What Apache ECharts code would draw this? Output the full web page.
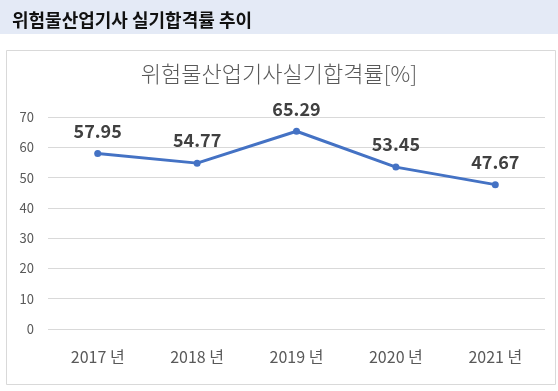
<!DOCTYPE html>
<html><head><meta charset="utf-8">
<script src="https://cdn.jsdelivr.net/npm/echarts@6/dist/echarts.min.js"></script>
<style>html,body{margin:0;padding:0;background:#fff}#c{width:558px;height:391px}</style>
</head><body><div id="c"></div>
<script>
const categories = ['2017 년', '2018 년', '2019 년', '2020 년', '2021 년'];
const passRates = [57.95, 54.77, 65.29, 53.45, 47.67];
const yTicks = [0, 10, 20, 30, 40, 50, 60, 70];

const chart = echarts.init(document.getElementById('c'));
chart.setOption({
  animation: false,
  backgroundColor: '#ffffff',
  graphic: [
    { type: 'rect', left: 0, top: 0, shape: { width: 558, height: 34 }, style: { fill: '#E4EAF6' }, z: -1 },
    { type: 'rect', left: 4, top: 48, shape: { width: 549, height: 334 }, style: { fill: 'none', stroke: '#D9D9D9', lineWidth: 1 }, z: -1 }
  ],
  title: [
    { text: '위험물산업기사 실기합격률 추이', left: 7, top: 6,
      textStyle: { fontFamily: 'Noto Sans CJK KR', fontSize: 18, fontWeight: 'bold', color: '#111' } },
    { text: '위험물산업기사실기합격률[%]', left: 'center', top: 58,
      textStyle: { fontFamily: 'Noto Sans CJK KR', fontSize: 22, fontWeight: 300, color: '#595959' } }
  ],
  grid: { left: 48, right: 13, top: 117, bottom: 62, containLabel: false },
  xAxis: {
    type: 'category', data: categories, boundaryGap: true,
    axisLine: { show: false }, axisTick: { show: false },
    axisLabel: { fontFamily: 'Noto Sans CJK KR', fontSize: 16, color: '#595959', margin: 20 }
  },
  yAxis: {
    type: 'value', min: yTicks[0], max: yTicks[yTicks.length - 1], interval: 10,
    axisLine: { show: false }, axisTick: { show: false },
    axisLabel: { fontFamily: 'Noto Sans CJK KR', fontSize: 13, color: '#595959', margin: 14 },
    splitLine: { lineStyle: { color: '#D9D9D9', width: 1 } }
  },
  series: [{
    type: 'line', data: passRates,
    lineStyle: { color: '#4472C4', width: 3 },
    itemStyle: { color: '#4472C4' },
    symbol: 'circle', symbolSize: 7,
    label: { show: true, position: 'top', distance: 10,
      formatter: p => p.value.toFixed(2),
      fontFamily: 'Noto Sans CJK KR', fontSize: 18, fontWeight: 'bold', color: '#404040' }
  }]
});
</script></body></html>
